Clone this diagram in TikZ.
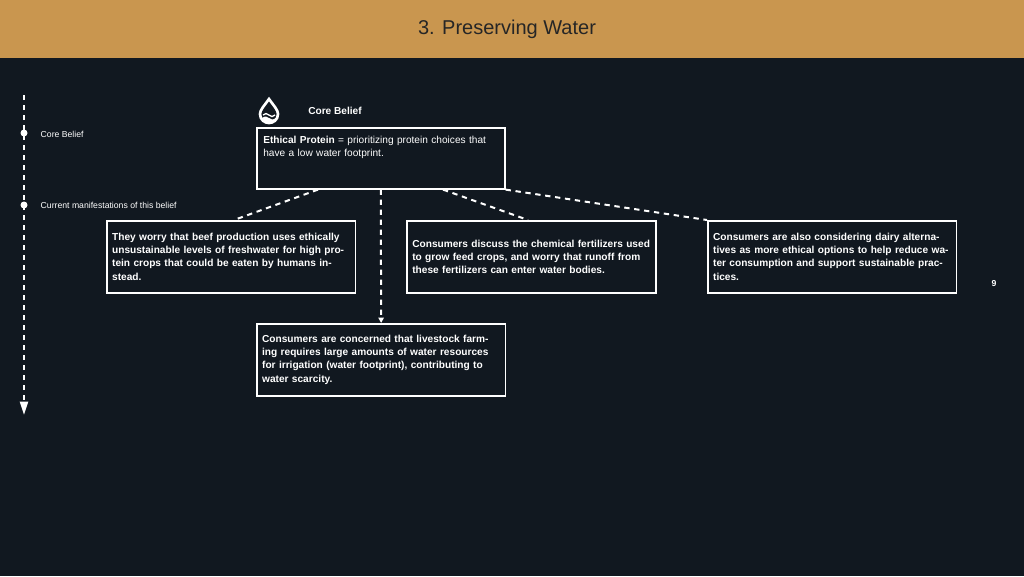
\documentclass[tikz,border=0pt]{standalone}
\usepackage{fontspec}
\setmainfont{Liberation Sans}
\usetikzlibrary{arrows.meta}
\definecolor{bg}{HTML}{111820}
\definecolor{hdr}{HTML}{C9964F}
\begin{document}
\begin{tikzpicture}[x=0.75pt,y=-0.75pt,
  box/.style={draw=white,line width=1.2pt,fill=bg,text=white,align=left,anchor=north west,inner sep=4pt,font=\fontsize{7.6}{9.8}\selectfont\bfseries},
  dashline/.style={draw=white,line width=1.5pt,dash pattern=on 4pt off 3.5pt},
  lab/.style={text=white,font=\fontsize{6.5}{8}\selectfont,anchor=west}]
\fill[bg] (0,0) rectangle (1024,576);
\useasboundingbox (0,0) rectangle (1024,576);
\fill[hdr] (0,0) rectangle (1024,58);
\node[text=black!85,font=\fontsize{15}{18}\selectfont] (title) at (507,29) {3. Preserving Water};
% timeline
\coordinate (t0) at (24,95);
\coordinate (t1) at (24,415);
\draw[dashline,-{Triangle[width=6pt,length=10pt]}] (t0) -- (t1);
\fill[white] (24,133) circle (3.5);
\fill[white] (24,205) circle (3.5);
\node[lab] (l1) at (36,134) {Core Belief};
\node[lab] (l2) at (36,205) {Current manifestations of this belief};
% icon
\node[text=white,font=\fontsize{7.6}{9}\selectfont\bfseries] (cbl) at (335,111) {Core Belief};
\begin{scope}[shift={(269,111)}]
\draw[white,line width=2pt] (0,-12) .. controls (5,-5) and (9,-1) .. (9,3) .. controls (9,9) and (4,12) .. (0,12) .. controls (-4,12) and (-9,9) .. (-9,3) .. controls (-9,-1) and (-5,-5) .. (0,-12) -- cycle;
\draw[white,line width=1pt] (-6,4) .. controls (-4,2) and (-2,2) .. (0,4) .. controls (2,6) and (4,6) .. (6,4);
\fill[white] (-7,7) .. controls (-4,5) and (-2,5) .. (0,7) .. controls (2,9) and (4,9) .. (7,7) -- (4,11) -- (-4,11) -- cycle;
\end{scope}
% boxes
\node[box,minimum width=248*0.75pt,minimum height=61*0.75pt,text width=235*0.75pt,text depth=28pt,font=\fontsize{7.6}{9.8}\selectfont] (core) at (256,127)
  {\textbf{Ethical Protein} = prioritizing protein choices that have a low water footprint.};
\node[box,minimum width=248*0.75pt,minimum height=72*0.75pt,text width=238*0.75pt] (b1) at (106,220)
  {They worry that beef production uses ethically unsustainable levels of freshwater for high protein crops that could be eaten by humans instead.\par};
\node[box,minimum width=249*0.75pt,minimum height=72*0.75pt,text width=238*0.75pt] (b2) at (406,220)
  {Consumers discuss the chemical fertilizers used to grow feed crops, and worry that runoff from these fertilizers can enter water bodies.\par};
\node[box,minimum width=248*0.75pt,minimum height=72*0.75pt,text width=238*0.75pt] (b3) at (707,220)
  {Consumers are also considering dairy alternatives as more ethical options to help reduce water consumption and support sustainable practices.\par};
\node[box,minimum width=248*0.75pt,minimum height=72*0.75pt,text width=238*0.75pt] (b4) at (256,323)
  {Consumers are concerned that livestock farming requires large amounts of water resources for irrigation (water footprint), contributing to water scarcity.\par};
\node[text=white,font=\fontsize{6.5}{8}\selectfont\bfseries] (pg) at (994,284) {9};
% connectors
\draw[dashline] ([xshift=62*0.75pt]core.south west) -- ([xshift=128*0.75pt]b1.north west);
\draw[dashline,-{Triangle[width=4pt,length=4pt]}] (core.south) -- (b4.north);
\draw[dashline] ([xshift=187*0.75pt]core.south west) -- ([xshift=122*0.75pt]b2.north west);
\draw[dashline] (core.south east) -- (b3.north west);
\end{tikzpicture}
\end{document}
